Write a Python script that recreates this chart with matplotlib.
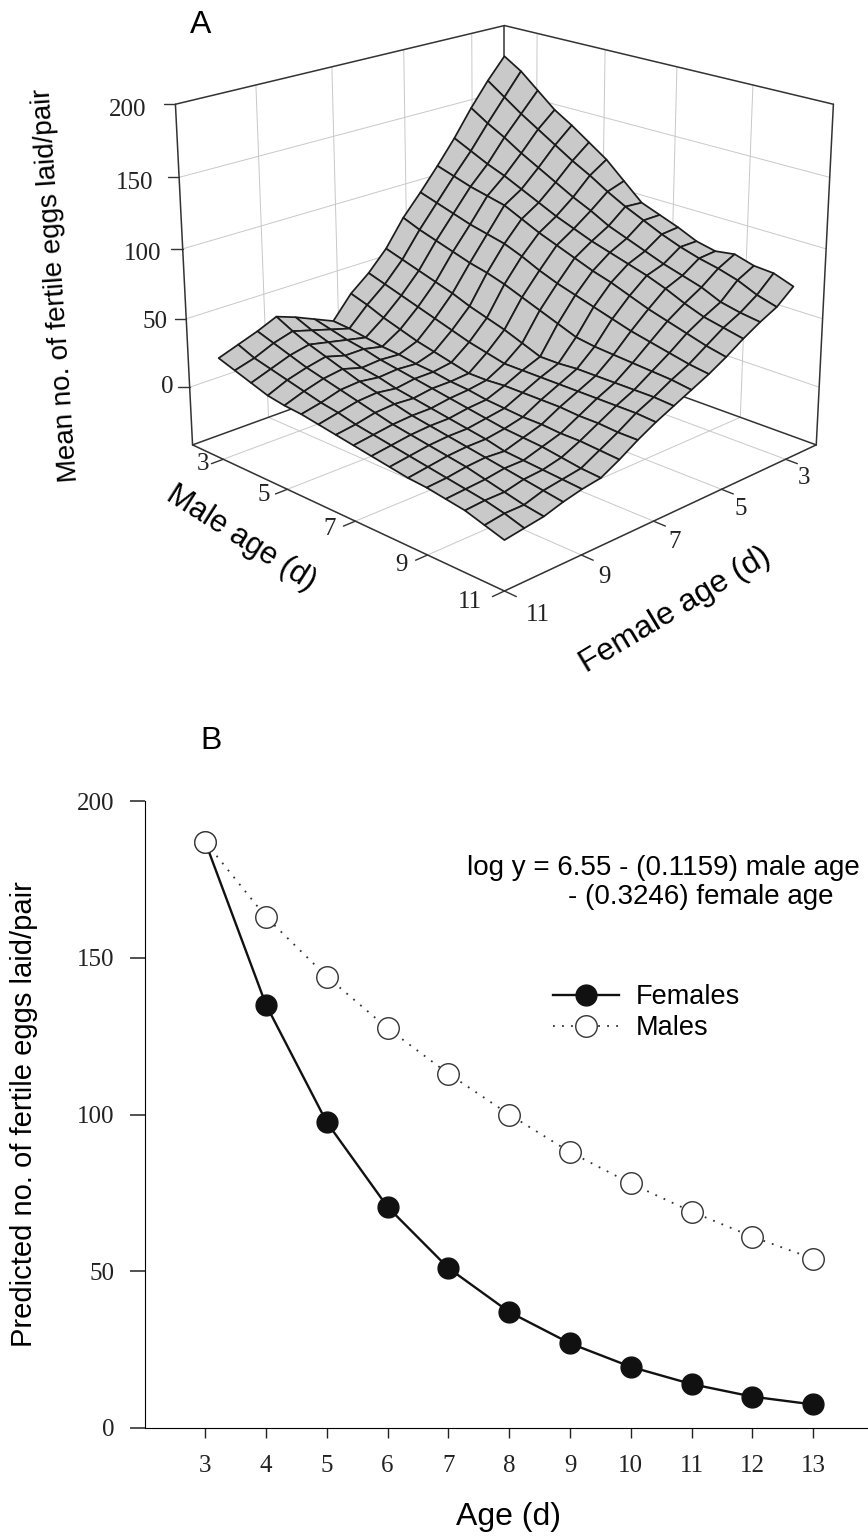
import matplotlib
matplotlib.use("Agg")
import matplotlib.pyplot as plt
import numpy as np

# Panel A - rows are female age, columns male age
age_grid = [3, 3.5, 4, 4.5, 5, 5.5, 6, 6.5, 7, 7.5, 8, 8.5, 9, 9.5, 10, 10.5, 11]
eggs_surface = [
    [189, 181, 170, 159, 151, 142, 133, 121, 109, 104, 99, 93, 90, 92, 88, 87, 82],
    [174, 165, 156, 148, 140, 132, 125, 117, 110, 104, 98, 93, 89, 86, 82, 76, 72],
    [157, 149, 142, 134, 127, 120, 113, 107, 100, 95, 90, 85, 81, 77, 71, 68, 66],
    [138, 132, 126, 121, 115, 109, 103, 98, 93, 89, 85, 81, 76, 70, 65, 62, 59],
    [121, 117, 113, 110, 107, 101, 95, 90, 85, 80, 76, 71, 66, 62, 58, 54, 51],
    [105, 101, 97, 93, 90, 87, 82, 76, 71, 67, 63, 59, 55, 52, 49, 46, 44],
    [90, 85, 81, 77, 73, 70, 66, 61, 56, 51, 46, 44, 43, 42, 41, 40, 38],
    [71, 67, 63, 59, 55, 50, 46, 42, 37, 32, 32, 33, 33, 33, 33, 33, 32],
    [57, 53, 49, 45, 41, 37, 33, 30, 27, 27, 27, 27, 27, 27, 27, 27, 26],
    [46, 42, 37, 33, 29, 26, 23, 20, 20, 21, 21, 21, 21, 20, 20, 19, 19],
    [30, 29, 27, 25, 24, 22, 21, 19, 18, 16, 15, 14, 14, 13, 13, 12, 11],
    [36, 33, 30, 28, 25, 23, 21, 19, 17, 15, 13, 11, 10, 9, 7, 5, 4],
    [42, 37, 33, 28, 24, 22, 19, 17, 15, 13, 11, 9, 6, 5, 4, 3, 2],
    [47, 41, 36, 32, 28, 24, 21, 18, 15, 13, 11, 9, 7, 5, 3, 1, -1],
    [41, 37, 33, 29, 26, 23, 20, 17, 14, 12, 10, 8, 6, 3, 0, -3, -5],
    [36, 31, 28, 25, 22, 19, 17, 14, 12, 10, 8, 6, 4, 2, 0, -3, -7],
    [31, 27, 23, 19, 17, 16, 14, 12, 10, 8, 6, 4, 3, 1, -1, -5, -9],
]
age_ticks_a = [3, 5, 7, 9, 11]
z_ticks = [0, 50, 100, 150, 200]

# Panel B
ages = [3, 4, 5, 6, 7, 8, 9, 10, 11, 12, 13]
females = [187, 135, 97.5, 70.5, 51, 37, 27, 19.5, 14, 10, 7.5]
males = [187, 163, 144, 127.5, 113, 100, 88, 78, 69, 61, 54]
y_ticks_b = [0, 50, 100, 150, 200]

SANS = "Liberation Sans"
SERIF = "Liberation Serif"
W, H = 868, 1536
LO, HI, ZLO, ZHI = 2, 11, -43, 200

fig = plt.figure(figsize=(W / 100, H / 100), dpi=100)

def put(x, y, s, **kw):
    # pixel position measured from the top left of the picture
    return fig.text(x / W, 1 - y / H, s, **kw)

# ----- A -----
ax = fig.add_axes([-0.05, 0.5795, 1.24, 0.465], projection="3d", computed_zorder=False)
ax.set_proj_type("persp", focal_length=0.6)
ax.view_init(elev=20, azim=45)
ax.set_box_aspect((1, 1, 0.80))
ax.set_xlim(LO, HI)
ax.set_ylim(LO, HI)
ax.set_zlim(ZLO, ZHI)
ax.set_axis_off()

edge = "#333333"
def line3(xs, ys, zs, color=edge, lw=1.1, z=1):
    ax.plot(xs, ys, zs, color=color, lw=lw, zorder=z, solid_capstyle="round")

# walls: x is female age, y is male age
grid_c = "#c8c8c8"
for v in age_ticks_a[:-1]:
    line3([v, v], [LO, LO], [ZLO, ZHI], grid_c, 0.7)
    line3([LO, LO], [v, v], [ZLO, ZHI], grid_c, 0.7)
for v in age_ticks_a:
    line3([v, v], [LO, HI], [ZLO, ZLO], grid_c, 0.7)
    line3([LO, HI], [v, v], [ZLO, ZLO], grid_c, 0.7)
for v in z_ticks[:-1]:
    line3([LO, HI], [LO, LO], [v, v], grid_c, 0.7)
    line3([LO, LO], [LO, HI], [v, v], grid_c, 0.7)

line3([LO, LO], [LO, LO], [ZLO, ZHI])
line3([LO, HI], [LO, LO], [ZHI, ZHI])
line3([LO, LO], [LO, HI], [ZHI, ZHI])
line3([HI, HI], [LO, LO], [ZLO, ZHI])
line3([LO, LO], [HI, HI], [ZLO, ZHI])
line3([LO, HI], [HI, HI], [ZLO, ZLO], z=3)
line3([HI, HI], [LO, HI], [ZLO, ZLO], z=3)
line3([LO, HI], [LO, LO], [ZLO, ZLO])
line3([LO, LO], [LO, HI], [ZLO, ZLO])

X, Y = np.meshgrid(age_grid, age_grid)
ax.plot_surface(X.T, Y.T, np.array(eggs_surface), color="#c9c9c9", shade=False,
                edgecolor="#1c1c1c", linewidth=1.25, rstride=1, cstride=1, zorder=2)

for v in z_ticks:
    line3([HI, HI + 0.16], [LO, LO - 0.16], [v, v], edge, 1.0)
for v in age_ticks_a:
    line3([v, v], [HI, HI + 0.3], [ZLO, ZLO], edge, 1.0, z=3)
    line3([HI, HI + 0.3], [v, v], [ZLO, ZLO], edge, 1.0, z=3)

z_label_x = [174, 167, 161, 153, 146]
z_label_y = [387, 322, 254, 183, 110]
male_label_xy = [(203, 464), (264, 495), (330, 529), (401, 565), (470, 602)]
female_label_xy = [(804, 478), (741, 509), (675, 542), (604, 577), (538, 615)]
tick_style = dict(family=SERIF, fontsize=18, color="#222222", va="center")
for v, lx, ly in zip(z_ticks, z_label_x, z_label_y):
    put(lx, ly, str(v), ha="right", **tick_style)
for v, (lx, ly) in zip(age_ticks_a, male_label_xy):
    put(lx, ly, str(v), ha="center", **tick_style)
for v, (lx, ly) in zip(age_ticks_a, female_label_xy):
    put(lx, ly, str(v), ha="center", **tick_style)

put(190, 25, "A", family=SANS, fontsize=23, va="center", ha="left")
put(56, 285, "Mean no. of fertile eggs laid/pair", family=SANS, fontsize=20, rotation=94,
    ha="center", va="center", rotation_mode="anchor")
put(241, 538, "Male age (d)", family=SANS, fontsize=22, rotation=-32.5, ha="center", va="center",
    rotation_mode="anchor")
put(675, 610, "Female age (d)", family=SANS, fontsize=23, rotation=31, ha="center", va="center",
    rotation_mode="anchor")

# ----- B -----
left, right, top, bottom = 145, 868, 801, 1428
ax2 = fig.add_axes([left / W, 1 - bottom / H, (right - left) / W, (bottom - top) / H])
ax2.plot(ages, females, "-o", color="#111111", mfc="#111111", mec="#111111", ms=15, lw=1.7,
         label="Females", clip_on=False)
ax2.plot(ages, males, ":o", color="#333333", mfc="white", mec="#333333", ms=15.5, mew=1.0, lw=1.3,
         label="Males", clip_on=False, dashes=(1, 4))
ax2.set_xlim(2.01, 13.9)
ax2.set_ylim(0, 200)
ax2.set_xticks(ages)
ax2.set_yticks(y_ticks_b)
ax2.spines["top"].set_visible(False)
ax2.spines["right"].set_visible(False)
ax2.tick_params(axis="y", length=11, width=1.1, labelsize=18, pad=11, color="#222222")
ax2.tick_params(axis="x", length=7, width=1.0, labelsize=18, pad=12.5, color="#222222")
for lab in ax2.get_xticklabels() + ax2.get_yticklabels():
    lab.set_family(SERIF)
    lab.set_color("#222222")
put(508, 1517, "Age (d)", family=SANS, fontsize=23, ha="center", va="center")
put(24, 1114, "Predicted no. of fertile eggs laid/pair", family=SANS, fontsize=21, rotation=90,
    ha="center", va="center")
put(200, 741, "B", family=SANS, fontsize=23, ha="left", va="center")
put(663, 868, "log y = 6.55 - (0.1159) male age", family=SANS, fontsize=20, ha="center", va="center")
put(701, 897, "- (0.3246) female age", family=SANS, fontsize=20, ha="center", va="center")
ax2.legend(loc="upper left", bbox_to_anchor=((553 - left) / (right - left), 1 - (984 - top) / (bottom - top)),
           frameon=False, prop={"family": SANS, "size": 19.5}, handlelength=2.44, labelspacing=0.2,
           handletextpad=0.63, borderpad=0, borderaxespad=0)

fig.savefig("out.png", dpi=100, facecolor="white")
